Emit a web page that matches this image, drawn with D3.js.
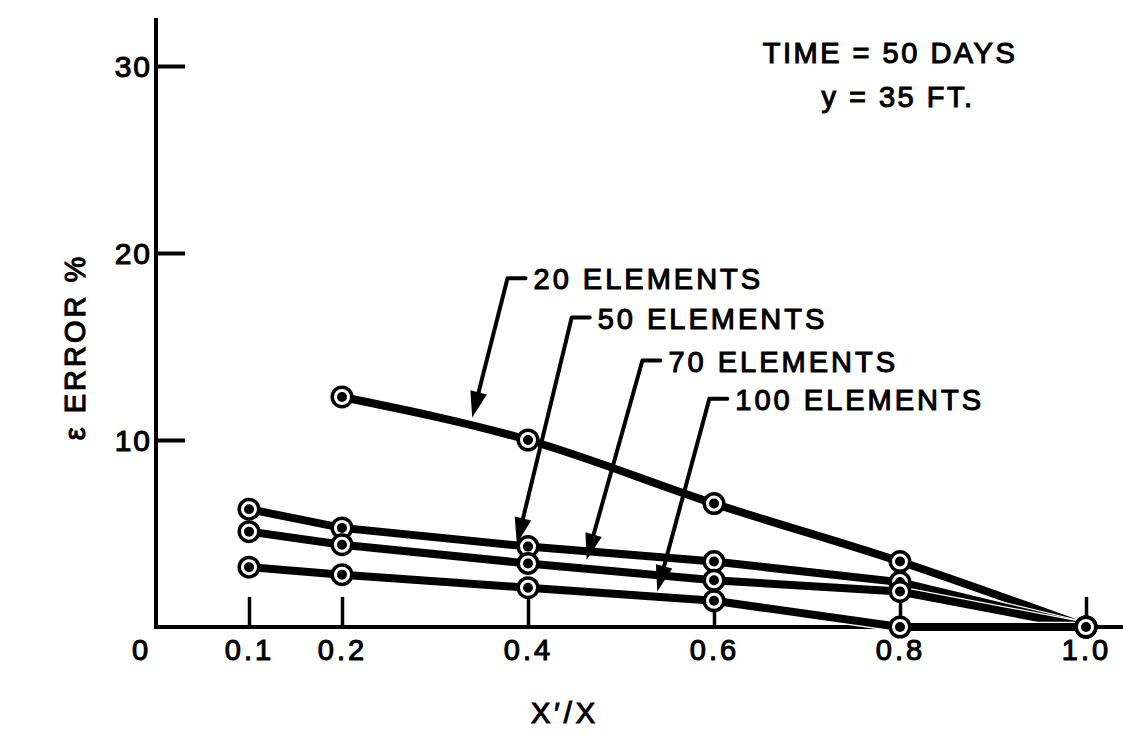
<!DOCTYPE html>
<html>
<head>
<meta charset="utf-8">
<script src="https://cdn.jsdelivr.net/npm/d3@7"></script>
<style>
  body { margin: 0; background: #fff; }
  text { font-family: "Liberation Sans", Arial, sans-serif; fill: #000; stroke: #000; stroke-width: 1.1px; }
</style>
</head>
<body>
<div id="chart"></div>
<script>
// tick values
const xTicks = [0.1, 0.2, 0.4, 0.6, 0.8, 1.0];
const yTicks = [10, 20, 30];

// series (error %)
const seriesNames = ["20 ELEMENTS", "50 ELEMENTS", "70 ELEMENTS", "100 ELEMENTS"];
const xs20 = [0.2, 0.4, 0.6, 0.8, 1.0];
const xsFine = [0.1, 0.2, 0.4, 0.6, 0.8, 1.0];
const err20 = [12.3, 10.0, 6.6, 3.5, 0];
const err50 = [6.3, 5.3, 4.3, 3.5, 2.4, 0];
const err70 = [5.1, 4.4, 3.4, 2.5, 1.9, 0];
const err100 = [3.2, 2.8, 2.1, 1.4, 0, 0];

// leader corners and arrow tips for the labels, in data units
const labelAt = [[0.378, 18.65], [0.447, 16.55], [0.523, 14.25], [0.595, 12.2]];
const arrowTo = [[0.340, 11.2], [0.388, 4.45], [0.463, 3.6], [0.539, 1.9]];

const width = 1123, height = 748;

const svg = d3.select("#chart").append("svg")
    .attr("width", width)
    .attr("height", height);

const x = d3.scaleLinear().domain([0, 1]).range([156, 1086]);
const y = d3.scaleLinear().domain([0, 30]).range([627, 66]);

// axis lines
svg.append("line")
    .attr("x1", x(0)).attr("x2", x(0))
    .attr("y1", 18).attr("y2", y(0) + 2)
    .attr("stroke", "#000").attr("stroke-width", 4);
svg.append("line")
    .attr("x1", x(0) - 2).attr("x2", width)
    .attr("y1", y(0)).attr("y2", y(0))
    .attr("stroke", "#000").attr("stroke-width", 4);

// y axis ticks point inward, labels on the left
const yAxis = svg.append("g")
    .attr("transform", "translate(" + x(0) + ",0)")
    .call(d3.axisLeft(y).tickValues(yTicks).tickSize(-29).tickPadding(4).tickFormat(d3.format("d")));
yAxis.select(".domain").remove();
yAxis.selectAll(".tick line").attr("stroke", "#000").attr("stroke-width", 4);
yAxis.selectAll(".tick text")
    .style("font-size", "30px")
    .style("letter-spacing", "2px")
    .attr("font-family", null)
    .attr("dy", "0.36em");

// x axis ticks point up
const xAxis = svg.append("g")
    .attr("transform", "translate(0," + y(0) + ")")
    .call(d3.axisBottom(x).tickValues(xTicks).tickSize(-30).tickPadding(8).tickFormat(d3.format(".1f")));
xAxis.select(".domain").remove();
xAxis.selectAll(".tick line").attr("stroke", "#000").attr("stroke-width", 3.5);
xAxis.selectAll(".tick text")
    .style("font-size", "29px")
    .style("letter-spacing", "3px")
    .attr("font-family", null)
    .attr("dy", "0.85em");

// origin label
svg.append("text")
    .attr("x", x(0) - 16)
    .attr("y", y(0) + 8)
    .attr("dy", "0.85em")
    .attr("text-anchor", "middle")
    .style("font-size", "29px")
    .text("0");

// axis titles
svg.append("text")
    .attr("transform", "translate(" + 85 + "," + 347 + ") rotate(-90)")
    .attr("text-anchor", "middle")
    .style("font-size", "29px")
    .style("letter-spacing", "3px")
    .text("ε ERROR %");

svg.append("text")
    .attr("x", 565)
    .attr("y", 723)
    .attr("text-anchor", "middle")
    .style("font-size", "29px")
    .style("letter-spacing", "4px")
    .text("X′/X");

// note top right
svg.append("text")
    .attr("x", 890).attr("y", 63)
    .attr("text-anchor", "middle")
    .style("font-size", "29px")
    .style("letter-spacing", "2.5px")
    .text("TIME = 50 DAYS");
svg.append("text")
    .attr("x", 898).attr("y", 107)
    .attr("text-anchor", "middle")
    .style("font-size", "29px")
    .style("letter-spacing", "2.5px")
    .text("y = 35 FT.");

// build series
const allSeries = [
  { name: seriesNames[0], pts: xs20.map((d, i) => [d, err20[i]]), curve: d3.curveMonotoneX },
  { name: seriesNames[1], pts: xsFine.map((d, i) => [d, err50[i]]), curve: d3.curveLinear },
  { name: seriesNames[2], pts: xsFine.map((d, i) => [d, err70[i]]), curve: d3.curveLinear },
  { name: seriesNames[3], pts: xsFine.map((d, i) => [d, err100[i]]), curve: d3.curveLinear }
];

const lines = svg.append("g");
allSeries.forEach(s => {
  const line = d3.line()
      .x(d => x(d[0]))
      .y(d => y(d[1]))
      .curve(s.curve);
  // thin white halo keeps neighbouring lines apart
  lines.append("path")
      .attr("d", line(s.pts))
      .attr("fill", "none")
      .attr("stroke", "#fff")
      .attr("stroke-width", 10.5);
  lines.append("path")
      .attr("d", line(s.pts))
      .attr("fill", "none")
      .attr("stroke", "#000")
      .attr("stroke-width", 8)
      .attr("stroke-linecap", "round");
});

// markers: black ring, white ring, black dot
const markers = svg.append("g");
allSeries.forEach(s => {
  const g = markers.selectAll(null)
      .data(s.pts)
      .enter().append("g")
      .attr("transform", d => "translate(" + x(d[0]) + "," + y(d[1]) + ")");
  g.append("circle").attr("r", 11.5).attr("fill", "#000");
  g.append("circle").attr("r", 8).attr("fill", "#fff");
  g.append("circle").attr("r", 5).attr("fill", "#000");
});

// labels with leader arrows
const notes = svg.append("g");
seriesNames.forEach((name, i) => {
  const cx = x(labelAt[i][0]), cy = y(labelAt[i][1]);
  const tx = x(arrowTo[i][0]), ty = y(arrowTo[i][1]);
  const dx = tx - cx, dy = ty - cy;
  const len = Math.sqrt(dx * dx + dy * dy);
  const ux = dx / len, uy = dy / len;
  const headLen = 26, headHalf = 8.5;
  const bx = tx - ux * headLen, by = ty - uy * headLen;

  notes.append("path")
      .attr("d", "M" + (cx + 18) + "," + cy + " L" + cx + "," + cy + " L" + (bx + ux * 2) + "," + (by + uy * 2))
      .attr("fill", "none")
      .attr("stroke", "#000")
      .attr("stroke-width", 4)
      .attr("stroke-linejoin", "round")
      .attr("stroke-linecap", "round");

  notes.append("path")
      .attr("d", "M" + tx + "," + ty +
                 " L" + (bx - uy * headHalf) + "," + (by + ux * headHalf) +
                 " L" + (bx + uy * headHalf) + "," + (by - ux * headHalf) + "Z")
      .attr("fill", "#000");

  notes.append("text")
      .attr("x", cx + 26)
      .attr("y", cy + 11)
      .style("font-size", "29px")
      .style("letter-spacing", "3px")
      .text(name);
});
</script>
</body>
</html>
